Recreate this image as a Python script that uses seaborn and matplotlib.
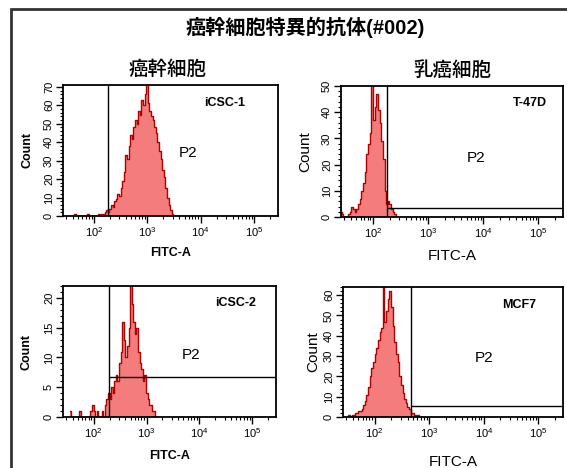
import numpy as np
import matplotlib
matplotlib.use("Agg")
import matplotlib.pyplot as plt
import matplotlib.ticker as mticker
from matplotlib.patches import Rectangle
import pandas as pd
import seaborn as sns

# Text
title = "癌幹細胞特異的抗体(#002)"
group_titles = ["癌幹細胞", "乳癌細胞"]
sample_names = ["iCSC-1", "T-47D", "iCSC-2", "MCF7"]
gate_name = "P2"

# Histogram data: counts per bin, bins are 0.03 wide in log10(FITC-A)
bin_width = 0.03
first_bin = [1.60, 1.40, 1.55, 1.52]

counts_icsc1 = [0, 1, 0, 0, 0, 0, 0, 0, 0, 1, 0, 0, 0, 0, 0, 0, 1, 0, 1, 1,
                2, 3, 2, 4, 6, 5, 8, 9, 12, 11, 15, 19, 24, 33, 31, 38, 44, 42,
                48, 52, 50, 57, 55, 63, 60, 66, 75, 61, 57, 54, 52, 48, 45, 40,
                35, 31, 25, 21, 15, 10, 6, 3, 1]
counts_t47d = [2, 1, 0, 0, 0, 1, 2, 4, 3, 2, 3, 5, 7, 10, 13, 17, 24, 28, 32,
               56, 37, 42, 47, 41, 36, 29, 22, 10, 5, 6, 5, 3, 2, 1, 0]
counts_icsc2 = [1, 0, 0, 0, 0, 0, 1, 0, 0, 0, 0, 0, 0, 1, 2, 1, 0, 1, 0, 0,
                1, 0, 2, 3, 4, 3, 5, 4, 6, 7, 6, 9, 11, 16, 13, 10, 12, 15, 24,
                19, 16, 14, 15, 11, 9, 8, 6, 7, 4, 3, 2, 2, 1, 1, 0]
counts_mcf7 = [1, 0, 1, 1, 2, 2, 3, 3, 4, 6, 8, 11, 15, 20, 24, 27, 31, 34, 38,
               42, 44, 70, 47, 52, 58, 62, 54, 45, 37, 31, 27, 20, 16, 12, 9, 7,
               5, 4, 2, 2, 1, 1, 1, 0]
all_counts = [counts_icsc1, counts_t47d, counts_icsc2, counts_mcf7]

# P2 gate: left FITC-A boundary and count threshold
gate_x = [182, 178, 191, 468]
gate_y = [0, 3.5, 6.7, 5.4]

# Axis settings
y_max = [71, 50, 22, 64]
y_major = [10, 10, 5, 10]
y_minor = [2, 2, 1, 2]
x_range = (10 ** 1.42, 10 ** 5.45)

fill_color = "#f47c7c"
edge_color = "#b00000"

sns.set_theme(style="ticks")
plt.rcParams["font.family"] = ["Liberation Sans", "Noto Sans CJK JP"]
plt.rcParams["mathtext.default"] = "regular"

fig = plt.figure(figsize=(5.67, 4.68), dpi=100)

positions = [
    [63 / 567, 1 - 216 / 468, 215 / 567, 131 / 468],
    [341 / 567, 1 - 217 / 468, 222 / 567, 131 / 468],
    [63 / 567, 1 - 417 / 468, 213 / 567, 131 / 468],
    [343 / 567, 1 - 417 / 468, 220 / 567, 130 / 468],
]
big_labels = [False, True, False, True]
name_pos = [(0.75, 0.86), (0.85, 0.87), (0.81, 0.87), (0.80, 0.86)]
p2_pos = [(0.58, 0.48), (0.61, 0.45), (0.60, 0.47), (0.64, 0.45)]
xlabel_y = [-0.28, -0.30, -0.30, -0.35]
ylabel_x = [-0.163, -0.162, -0.17, -0.136]

for i in range(4):
    ax = fig.add_axes(positions[i])
    start = first_bin[i]
    counts = all_counts[i]
    n = len(counts)
    centers = 10 ** (start + bin_width * (np.arange(n) + 0.5))
    df = pd.DataFrame({"FITC-A": centers, "Count": counts})

    sns.histplot(data=df, x="FITC-A", weights="Count", binwidth=bin_width,
                 binrange=(start, start + bin_width * n), log_scale=True,
                 element="step", fill=True, color=fill_color, alpha=1,
                 linewidth=0, ax=ax)
    sns.histplot(data=df, x="FITC-A", weights="Count", binwidth=bin_width,
                 binrange=(start, start + bin_width * n), log_scale=True,
                 element="step", fill=False, color=edge_color, linewidth=1.0,
                 ax=ax)

    ax.set_xlim(*x_range)
    ax.set_ylim(0, y_max[i])

    # gate P2
    ax.axvline(gate_x[i], color="black", lw=1.0)
    ax.plot([gate_x[i], x_range[1]], [gate_y[i], gate_y[i]], color="black", lw=1.0)

    for sp in ax.spines.values():
        sp.set_color("black")
        sp.set_linewidth(1.3)

    ax.xaxis.set_major_locator(mticker.LogLocator(base=10, numticks=10))
    ax.xaxis.set_minor_locator(mticker.LogLocator(base=10, subs=np.arange(2, 10), numticks=20))
    ax.yaxis.set_major_locator(mticker.MultipleLocator(y_major[i]))
    ax.yaxis.set_minor_locator(mticker.MultipleLocator(y_minor[i]))
    ax.tick_params(axis="both", which="major", direction="out", length=5, width=1,
                   color="black", labelsize=8, pad=1.5, labelcolor="black")
    ax.tick_params(axis="both", which="minor", direction="out", length=2.5, width=0.8,
                   color="black")
    for lab in ax.get_yticklabels():
        lab.set_rotation(90)
        lab.set_va("center")

    if big_labels[i]:
        ax.set_xlabel("FITC-A", fontsize=11, color="black")
        ax.set_ylabel("Count", fontsize=11, color="black")
    else:
        ax.set_xlabel("FITC-A", fontsize=9, fontweight="bold", color="black")
        ax.set_ylabel("Count", fontsize=9, fontweight="bold", color="black")
    ax.xaxis.set_label_coords(0.5, xlabel_y[i])
    ax.xaxis.label.set_va("center")
    ax.yaxis.set_label_coords(ylabel_x[i], 0.5)
    ax.yaxis.label.set_va("center")

    ax.text(*name_pos[i], sample_names[i], transform=ax.transAxes, fontsize=9,
            fontweight="bold", ha="center", va="center", color="black")
    ax.text(*p2_pos[i], gate_name, transform=ax.transAxes, fontsize=11,
            ha="center", va="center", color="black")

# group headers and title
fig.text(168 / 567, 1 - 70 / 468, group_titles[0], fontsize=14, fontweight="medium",
         ha="center", va="center", color="black")
fig.text(452 / 567, 1 - 70 / 468, group_titles[1], fontsize=14, fontweight="medium",
         ha="center", va="center", color="black")
fig.text(305 / 567, 1 - 27 / 468, title, fontsize=14.5, fontweight="bold",
         ha="center", va="center", color="black")

# outer frame
fig.patches.append(Rectangle((11 / 567, -0.1), 1.2, 1.1 - 9 / 468, transform=fig.transFigure,
                             fill=False, edgecolor="#333333", linewidth=2))

fig.savefig("out.png", dpi=100)
